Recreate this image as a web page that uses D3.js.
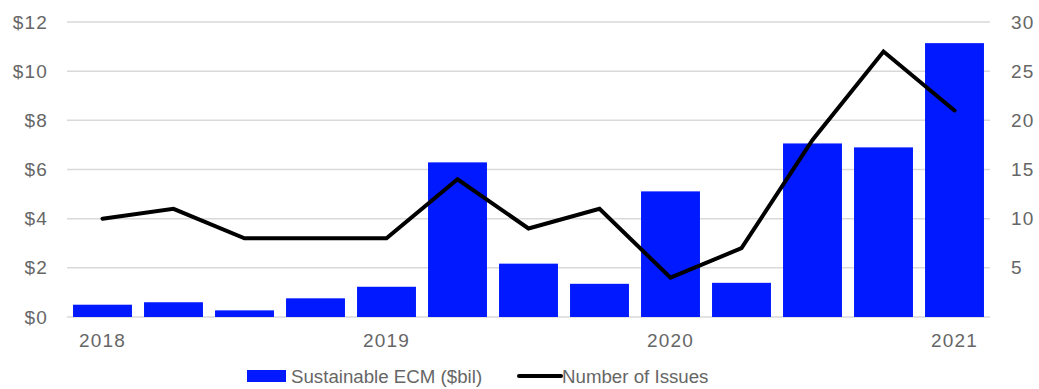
<!DOCTYPE html>
<html>
<head>
<meta charset="utf-8">
<script src="https://cdn.jsdelivr.net/npm/d3@7"></script>
<style>
  html, body { margin: 0; padding: 0; background: #fff; }
  svg { display: block; }
  text { font-family: "Liberation Sans", Arial, sans-serif; fill: #666; }
</style>
</head>
<body>
<svg id="chart" width="1039" height="389"></svg>
<script>
// Quarterly sustainable equity capital markets issuance, 2018 Q1 – 2021 Q1
const quarters = ["2018 Q1","2018 Q2","2018 Q3","2018 Q4",
                  "2019 Q1","2019 Q2","2019 Q3","2019 Q4",
                  "2020 Q1","2020 Q2","2020 Q3","2020 Q4",
                  "2021 Q1"];
const ecmBillions = [0.5, 0.6, 0.27, 0.76, 1.23, 6.29, 2.17, 1.35, 5.11, 1.39, 7.06, 6.9, 11.14];
const issueCounts = [10, 11, 8, 8, 8, 14, 9, 11, 4, 7, 18, 27, 21];
const yearLabels = {"2018 Q1": "2018", "2019 Q1": "2019", "2020 Q1": "2020", "2021 Q1": "2021"};
const leftTicks = [0, 2, 4, 6, 8, 10, 12];
const rightTicks = [5, 10, 15, 20, 25, 30];
const legendLabels = ["Sustainable ECM ($bil)", "Number of Issues"];

const svg = d3.select("#chart");
const plotLeft = 67, plotRight = 990, plotTop = 22, plotBottom = 317;
const fontSize = 19;
const fontFamily = "'Liberation Sans', Arial, sans-serif";
const textColor = "#666";

const x = d3.scaleBand().domain(quarters).range([plotLeft, plotRight])
  .paddingInner(0.17).paddingOuter(0.085);
const yL = d3.scaleLinear().domain([0, 12]).range([plotBottom, plotTop]);
const yR = d3.scaleLinear().domain([0, 30]).range([plotBottom, plotTop]);

// horizontal gridlines
svg.append("g")
  .selectAll("line")
  .data(leftTicks)
  .join("line")
  .attr("x1", plotLeft).attr("x2", plotRight)
  .attr("y1", d => yL(d)).attr("y2", d => yL(d))
  .attr("stroke", "#d9d9d9").attr("stroke-width", 1.5);

// bars
svg.append("g")
  .selectAll("rect")
  .data(quarters)
  .join("rect")
  .attr("x", d => x(d))
  .attr("width", x.bandwidth())
  .attr("y", (d, i) => yL(ecmBillions[i]))
  .attr("height", (d, i) => yL(0) - yL(ecmBillions[i]))
  .attr("fill", "#0019ff");

// line of issue counts
const line = d3.line()
  .x((d, i) => x(quarters[i]) + x.bandwidth() / 2)
  .y(d => yR(d));
svg.append("path")
  .datum(issueCounts)
  .attr("d", line)
  .attr("fill", "none")
  .attr("stroke", "#000")
  .attr("stroke-width", 4)
  .attr("stroke-linejoin", "miter")
  .attr("stroke-linecap", "round");

function styleAxisText(g) {
  g.select(".domain").remove();
  g.selectAll("text")
    .style("font-size", fontSize + "px")
    .style("font-family", fontFamily)
    .style("letter-spacing", "1.2px")
    .attr("fill", textColor);
}

// left axis
svg.append("g")
  .attr("transform", `translate(${plotLeft - 19},0)`)
  .call(d3.axisLeft(yL).tickValues(leftTicks).tickSize(0).tickPadding(0)
    .tickFormat(d => "$" + d))
  .call(styleAxisText);

// right axis
svg.append("g")
  .attr("transform", `translate(${plotRight + 21},0)`)
  .call(d3.axisRight(yR).tickValues(rightTicks).tickSize(0).tickPadding(0))
  .call(styleAxisText);

// bottom axis: year labels under the first quarter of each year
svg.append("g")
  .attr("transform", `translate(0,${plotBottom})`)
  .call(d3.axisBottom(x).tickSize(0).tickPadding(17)
    .tickFormat(d => yearLabels[d] || ""))
  .call(styleAxisText);

// legend
const lg = svg.append("g").style("font-size", "18.7px").attr("fill", textColor);
lg.append("rect").attr("x", 247).attr("y", 370).attr("width", 39).attr("height", 12)
  .attr("fill", "#0019ff");
lg.append("text").attr("x", 291).attr("y", 376).attr("dy", "0.35em")
  .text(legendLabels[0]);
lg.append("line").attr("x1", 519).attr("x2", 561).attr("y1", 376).attr("y2", 376)
  .attr("stroke", "#000").attr("stroke-width", 4).attr("stroke-linecap", "round");
lg.append("text").attr("x", 562).attr("y", 376).attr("dy", "0.35em")
  .text(legendLabels[1]);
</script>
</body>
</html>
